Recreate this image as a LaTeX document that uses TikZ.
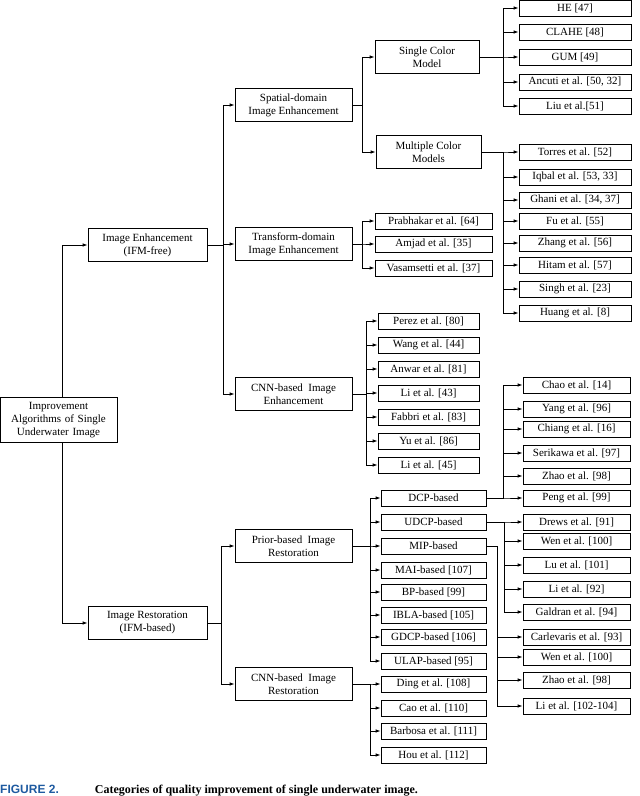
\documentclass[tikz,border=0pt]{standalone}
\usepackage{fontspec}
\setmainfont{Liberation Serif}
\usetikzlibrary{arrows.meta}
\definecolor{capblue}{RGB}{30,90,160}
\begin{document}
\begin{tikzpicture}[x=1pt,y=-1pt,
  bx/.style={draw,line width=0.8pt,fill=white,inner sep=1pt,align=center,font=\fontsize{11}{13}\selectfont},
  lf/.style={bx,minimum height=16pt},
  tw/.style={bx,minimum height=33pt},
  arr/.style={line width=0.8pt,-{Latex[length=5pt,width=3.5pt]}},
  ln/.style={line width=0.8pt}]
\useasboundingbox (0,0) rectangle (640,796);
% root-level
\draw[ln] (62,245) -- (62,623);
\node[bx,minimum width=117pt,minimum height=45pt,text width=113pt] (root) at (58.5,420) {Improvement\\Algorithms of Single\\Underwater Image};
\node[tw,minimum width=119pt] (ie) at (147.5,245) {Image Enhancement\\(IFM-free)};
\node[tw,minimum width=119pt] (ir) at (147.5,623) {Image Restoration\\(IFM-based)};
\draw[arr] (62,245) -- (ie.west);
\draw[arr] (62,623) -- (ir.west);
% enhancement
\node[tw,minimum width=117pt] (sd) at (293.5,105) {Spatial-domain\\Image Enhancement};
\node[tw,minimum width=117pt] (td) at (293.5,244) {Transform-domain\\Image Enhancement};
\node[tw,minimum width=117pt] (ce) at (293.5,394) {CNN-based~ Image\\Enhancement};
\foreach \t in {sd,td,ce} \draw[arr] (ie.east) -- (223,245) |- (\t.west);
\node[tw,minimum width=104pt] (sc) at (427,57) {Single Color\\Model};
\node[tw,minimum width=105pt] (mc) at (428.5,152) {Multiple Color\\Models};
\foreach \t in {sc,mc} \draw[arr] (sd.east) -- (362,105) |- (\t.west);
\foreach \n/\y/\s in {he/8/HE [47],cl/32/CLAHE [48],gu/57/GUM [49],an/82/{Ancuti et al. [50, 32]},li/106/{Liu et al.[51]}}{
  \node[lf,minimum width=112pt] (\n) at (575,\y) {\s};
  \draw[arr] (sc.east) -- (503,57) |- (\n.west);}
\foreach \n/\y/\s in {to/152/{Torres et al. [52]},iq/177/{Iqbal et al. [53, 33]},gh/200/{Ghani et al. [34, 37]},fu/221/{Fu et al. [55]},zh/243/{Zhang et al. [56]},hi/265/{Hitam et al. [57]},si/289/{Singh et al. [23]},hu/313/{Huang et al. [8]}}{
  \node[lf,minimum width=112pt] (\n) at (575,\y) {\s};
  \draw[arr] (mc.east) -- (503,152) |- (\n.west);}
\foreach \n/\y/\s in {pr/221/{Prabhakar et al. [64]},am/244/{Amjad et al. [35]},va/268/{Vasamsetti et al. [37]}}{
  \node[lf,minimum width=117pt] (\n) at (433.5,\y) {\s};
  \draw[arr] (td.east) -- (362,244) |- (\n.west);}
\foreach \n/\y/\s in {pe/321/{Perez et al. [80]},wa/345/{Wang et al. [44]},aw/369/{Anwar et al. [81]},lb/393/{Li et al. [43]},fa/417/{Fabbri et al. [83]},yu/441/{Yu et al. [86]},lc/465/{Li et al. [45]}}{
  \node[lf,minimum width=101pt] (\n) at (428.5,\y) {\s};
  \draw[arr] (ce.east) -- (366,394) |- (\n.west);}
% restoration
\node[tw,minimum width=117pt] (pb) at (293.5,546) {Prior-based~ Image\\Restoration};
\node[tw,minimum width=117pt] (cr) at (293.5,684) {CNN-based~ Image\\Restoration};
\foreach \t in {pb,cr} \draw[arr] (ir.east) -- (221,623) |- (\t.west);
\foreach \n/\y/\s in {dcp/498/DCP-based,udcp/522/UDCP-based,mip/546/MIP-based,mai/570/{MAI-based [107]},bp/592/{BP-based [99]},ibla/615/{IBLA-based [105]},gdcp/637/{GDCP-based [106]},ulap/661/{ULAP-based [95]}}{
  \node[lf,minimum width=105pt] (\n) at (433.5,\y) {\s};
  \draw[arr] (pb.east) -- (370,546) |- (\n.west);}
\foreach \n/\y/\s in {di/684/{Ding et al. [108]},ca/708/{Cao et al. [110]},ba/731/{Barbosa et al. [111]},ho/755/{Hou et al. [112]}}{
  \node[lf,minimum width=105pt] (\n) at (433.5,\y) {\s};
  \draw[arr] (cr.east) -- (370,684) |- (\n.west);}
\foreach \n/\y/\s in {r1/385/{Chao et al. [14]},r2/409/{Yang et al. [96]},r3/429/{Chiang et al. [16]},r4/453/{Serikawa et al. [97]},r5/476/{Zhao et al. [98]},r6/498/{Peng et al. [99]}}{
  \node[lf,minimum width=107pt] (\n) at (576.5,\y) {\s};
  \draw[arr] (dcp.east) -- (503,498) |- (\n.west);}
\foreach \n/\y/\s in {u1/522/{Drews et al. [91]},u2/541/{Wen et al. [100]},u3/565/{Lu et al. [101]},u4/589/{Li et al. [92]},u5/612/{Galdran et al. [94]}}{
  \node[lf,minimum width=107pt] (\n) at (576.5,\y) {\s};
  \draw[arr] (udcp.east) -- (504,522) |- (\n.west);}
\foreach \n/\y/\s in {m1/637/{Carlevaris et al. [93]},m2/657/{Wen et al. [100]},m3/680/{Zhao et al. [98]},m4/706/{Li et al. [102-104]}}{
  \node[lf,minimum width=107pt] (\n) at (576.5,\y) {\s};
  \draw[arr] (mip.east) -- (497,546) |- (\n.west);}
% caption
\node[anchor=base west,inner sep=0,font=\fontsize{12}{14}\selectfont\bfseries] (cap) at (0,793) {\textcolor{capblue}{\fontspec{Liberation Sans}FIGURE 2.}\hspace{3em}Categories of quality improvement of single underwater image.};
\end{tikzpicture}
\end{document}
